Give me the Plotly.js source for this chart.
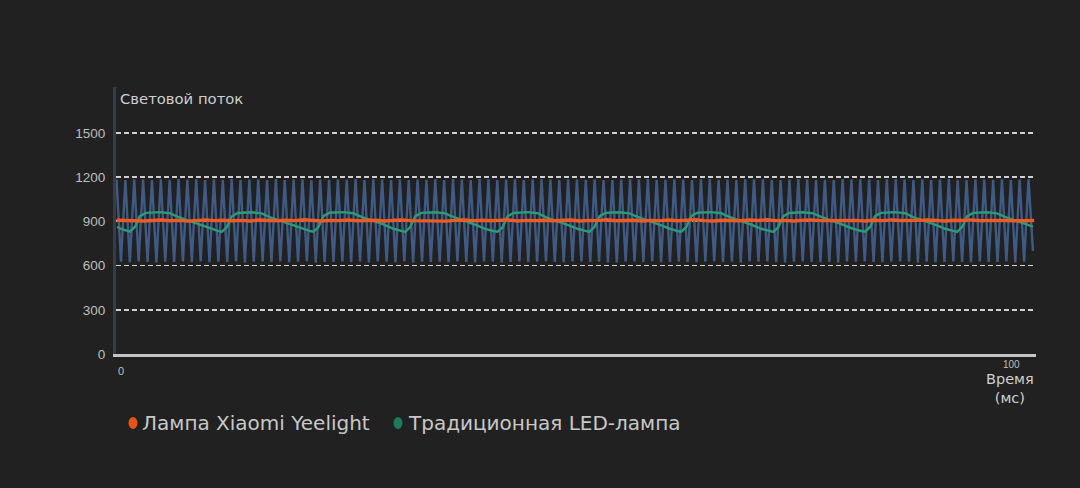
<!DOCTYPE html>
<html>
<head>
<meta charset="utf-8">
<script src="https://cdn.plot.ly/plotly-3.0.1.min.js"></script>
<style>
  html, body { margin: 0; padding: 0; background: #212121; }
  #chart { width: 1080px; height: 488px; }
</style>
</head>
<body>
<div id="chart"></div>
<script>
// ---- data ----
var seriesNames = ['Лампа Xiaomi Yeelight', 'Традиционная LED-лампа'];
var yTickVals = [0, 300, 600, 900, 1200, 1500];
var yTickText = ['0', '300', '600', '900', '1200', '1500'];
var xTickVals = [0, 100];
var xTickText = ['0', '100'];
var yTitle = 'Световой поток';
var xTitle = 'Время<br>(мс)';

// background ripple (triangle-like flicker), sampled every ~0.497 ms from -0.5 ms
var blueStart = -0.5, blueStep = 0.4969;
var blueValues = [
1184,626,1181,623,1186,628,1183,625,1180,622,1185,627,1182,624,1187,629,
1183,625,1186,628,1180,623,1185,626,1182,624,1187,629,1181,622,1184,627,
1185,627,1182,624,1187,629,1181,623,1184,626,1186,628,1180,622,1183,625,
1182,624,1185,627,1183,625,1187,629,1180,622,1186,628,1184,626,1181,623,
1186,628,1180,622,1184,626,1182,624,1185,627,1181,623,1187,629,1183,625,
1181,623,1187,629,1185,627,1180,622,1183,625,1186,628,1182,624,1184,626,
1187,629,1183,625,1181,623,1186,628,1184,626,1182,624,1185,627,1180,622,
1180,622,1184,626,1186,628,1183,625,1187,629,1181,623,1182,624,1185,627,
1183,625,1181,623,1185,627,1187,629,1182,624,1184,626,1180,622,1186,628,
1185,627,1186,628,1182,624,1180,622,1184,626,1187,629,1183,625,1181,623,
1182,624,1180,622,1187,629,1184,626,1186,628,1183,625,1181,623,1185,627,
1186,628,1184,626,1180,622,1185,627,1181,623,1183,625,1187,629,1182,624,
1181,623,1185,627,1183,625,1182,624,1186,628,1180,622,1184,626,1187,700
];

// Xiaomi Yeelight: steady ~905, sampled every 1 ms from -0.5 ms
var yeelightStart = -0.5, yeelightStep = 1;
var yeelightValues = [
908,905,907,903,906,909,904,907,902,906,
910,905,908,904,907,903,909,906,904,908,
905,911,906,903,907,905,909,904,906,908,
903,907,910,905,904,908,906,902,907,909,
905,908,904,906,910,903,907,905,908,904,
906,909,903,907,905,911,904,906,908,903,
907,905,909,904,906,912,905,903,908,906,
904,909,906,911,905,907,903,908,910,905,
906,904,909,907,903,908,905,910,906,904,
907,909,905,903,908,906,910,904,907,905,
908,906,904,907
];

// traditional LED lamp: 100 Hz ripple
var ledTime = [-0.45, 0.2,
1.0,1.56,2.12,2.8,4.37,5.49,6.39,8.86,9.98,10.88,
11.3,11.86,12.42,13.1,14.67,15.79,16.69,19.16,20.28,21.18,
21.6,22.16,22.72,23.4,24.97,26.09,26.99,29.46,30.58,31.48,
31.9,32.46,33.02,33.7,35.27,36.39,37.29,39.76,40.88,41.78,
42.27,42.83,43.39,44.07,45.64,46.76,47.66,50.13,51.25,52.15,
52.58,53.14,53.7,54.38,55.95,57.07,57.97,60.44,61.56,62.46,
62.89,63.45,64.01,64.69,66.26,67.38,68.28,70.75,71.87,72.77,
73.21,73.77,74.33,75.01,76.58,77.7,78.6,81.07,82.19,83.09,
83.52,84.08,84.64,85.32,86.89,88.01,88.91,91.38,92.5,93.4,
93.84,94.4,94.96,95.64,97.21,98.33,99.23,101.7,102.36];
var ledValues = [862, 845,
830,862,935,958,963,955,930,878,850,836,
829,860,933,957,962,954,929,877,851,835,
830,861,936,959,963,955,931,879,850,836,
828,862,934,958,962,954,930,878,849,835,
830,860,935,957,963,955,929,877,850,836,
829,862,934,958,962,954,930,878,851,835,
830,861,936,959,963,955,931,878,850,836,
828,860,934,957,962,954,930,877,849,835,
830,862,935,958,963,955,929,878,850,836,
829,861,934,958,962,954,930,878,865];

// ---- chart ----
var textFont = 'DejaVu Sans, Noto Sans, sans-serif';
var traces = [
  { x0: blueStart, dx: blueStep, y: blueValues, type: 'scatter', mode: 'lines',
    line: { color: '#3f5a84', width: 2.4 }, showlegend: false, hoverinfo: 'skip' },
  { x: ledTime, y: ledValues, type: 'scatter', mode: 'lines', name: seriesNames[1],
    line: { color: '#2b9a78', width: 2.4 }, showlegend: false },
  { x0: yeelightStart, dx: yeelightStep, y: yeelightValues, type: 'scatter', mode: 'lines', name: seriesNames[0],
    line: { color: '#ee5a24', width: 3.4 }, showlegend: false }
];

var layout = {
  width: 1080, height: 488,
  paper_bgcolor: '#212121', plot_bgcolor: '#212121',
  margin: { l: 116, r: 44, t: 87, b: 134 },
  showlegend: false,
  hovermode: false,
  xaxis: {
    range: [-0.56, 102.7], showgrid: false, zeroline: false,
    showline: true, linecolor: '#c4c4c4', linewidth: 2.5,
    tickvals: xTickVals, ticktext: xTickText, showticklabels: false, ticks: ''
  },
  yaxis: {
    range: [0, 1812], zeroline: false,
    tickvals: yTickVals, ticktext: yTickText,
    showgrid: true, gridcolor: '#d0d0d0', gridwidth: 1.8, griddash: '5px,3px',
    showline: true, linecolor: '#363d46', linewidth: 3,
    ticks: '', ticklabelstandoff: 5,
    tickfont: { family: 'Liberation Sans, Arial, sans-serif', size: 13.5, color: '#bdbdbd' }
  },
  annotations: [
    { text: yTitle, xref: 'paper', yref: 'paper', x: 0.002, y: 0.9588,
      xanchor: 'left', yanchor: 'middle', showarrow: false,
      font: { family: textFont, size: 14.8, color: '#cfcfcf' } },
    { text: xTitle, xref: 'paper', yref: 'paper', x: 0.972, y: -0.128,
      xanchor: 'center', yanchor: 'middle', showarrow: false,
      font: { family: textFont, size: 14.5, color: '#cfcfcf' } },
    { text: xTickText[0], xref: 'x', yref: 'paper', x: xTickVals[0], y: -0.0637,
      xanchor: 'center', yanchor: 'middle', showarrow: false,
      font: { family: 'Liberation Sans, Arial, sans-serif', size: 11, color: '#bdbdbd' } },
    { text: xTickText[1], xref: 'x', yref: 'paper', x: xTickVals[1], y: -0.0375,
      xanchor: 'center', yanchor: 'middle', showarrow: false,
      font: { family: 'Liberation Sans, Arial, sans-serif', size: 10, color: '#bdbdbd' } },
    { text: seriesNames[0], xref: 'paper', yref: 'paper', x: 0.0261, y: -0.2584,
      xanchor: 'left', yanchor: 'middle', showarrow: false,
      font: { family: textFont, size: 20, color: '#c8c8c8' } },
    { text: seriesNames[1], xref: 'paper', yref: 'paper', x: 0.3152, y: -0.2584,
      xanchor: 'left', yanchor: 'middle', showarrow: false,
      font: { family: textFont, size: 20, color: '#c8c8c8' } }
  ],
  shapes: [
    { type: 'circle', xref: 'paper', yref: 'paper', x0: 0.01359, x1: 0.02337, y0: -0.2809, y1: -0.2360,
      fillcolor: '#e8531c', line: { width: 0 } },
    { type: 'circle', xref: 'paper', yref: 'paper', x0: 0.3016, x1: 0.3114, y0: -0.2809, y1: -0.2360,
      fillcolor: '#1f7a57', line: { width: 0 } }
  ]
};

Plotly.newPlot('chart', traces, layout, { displayModeBar: false, staticPlot: true });
</script>
</body>
</html>
